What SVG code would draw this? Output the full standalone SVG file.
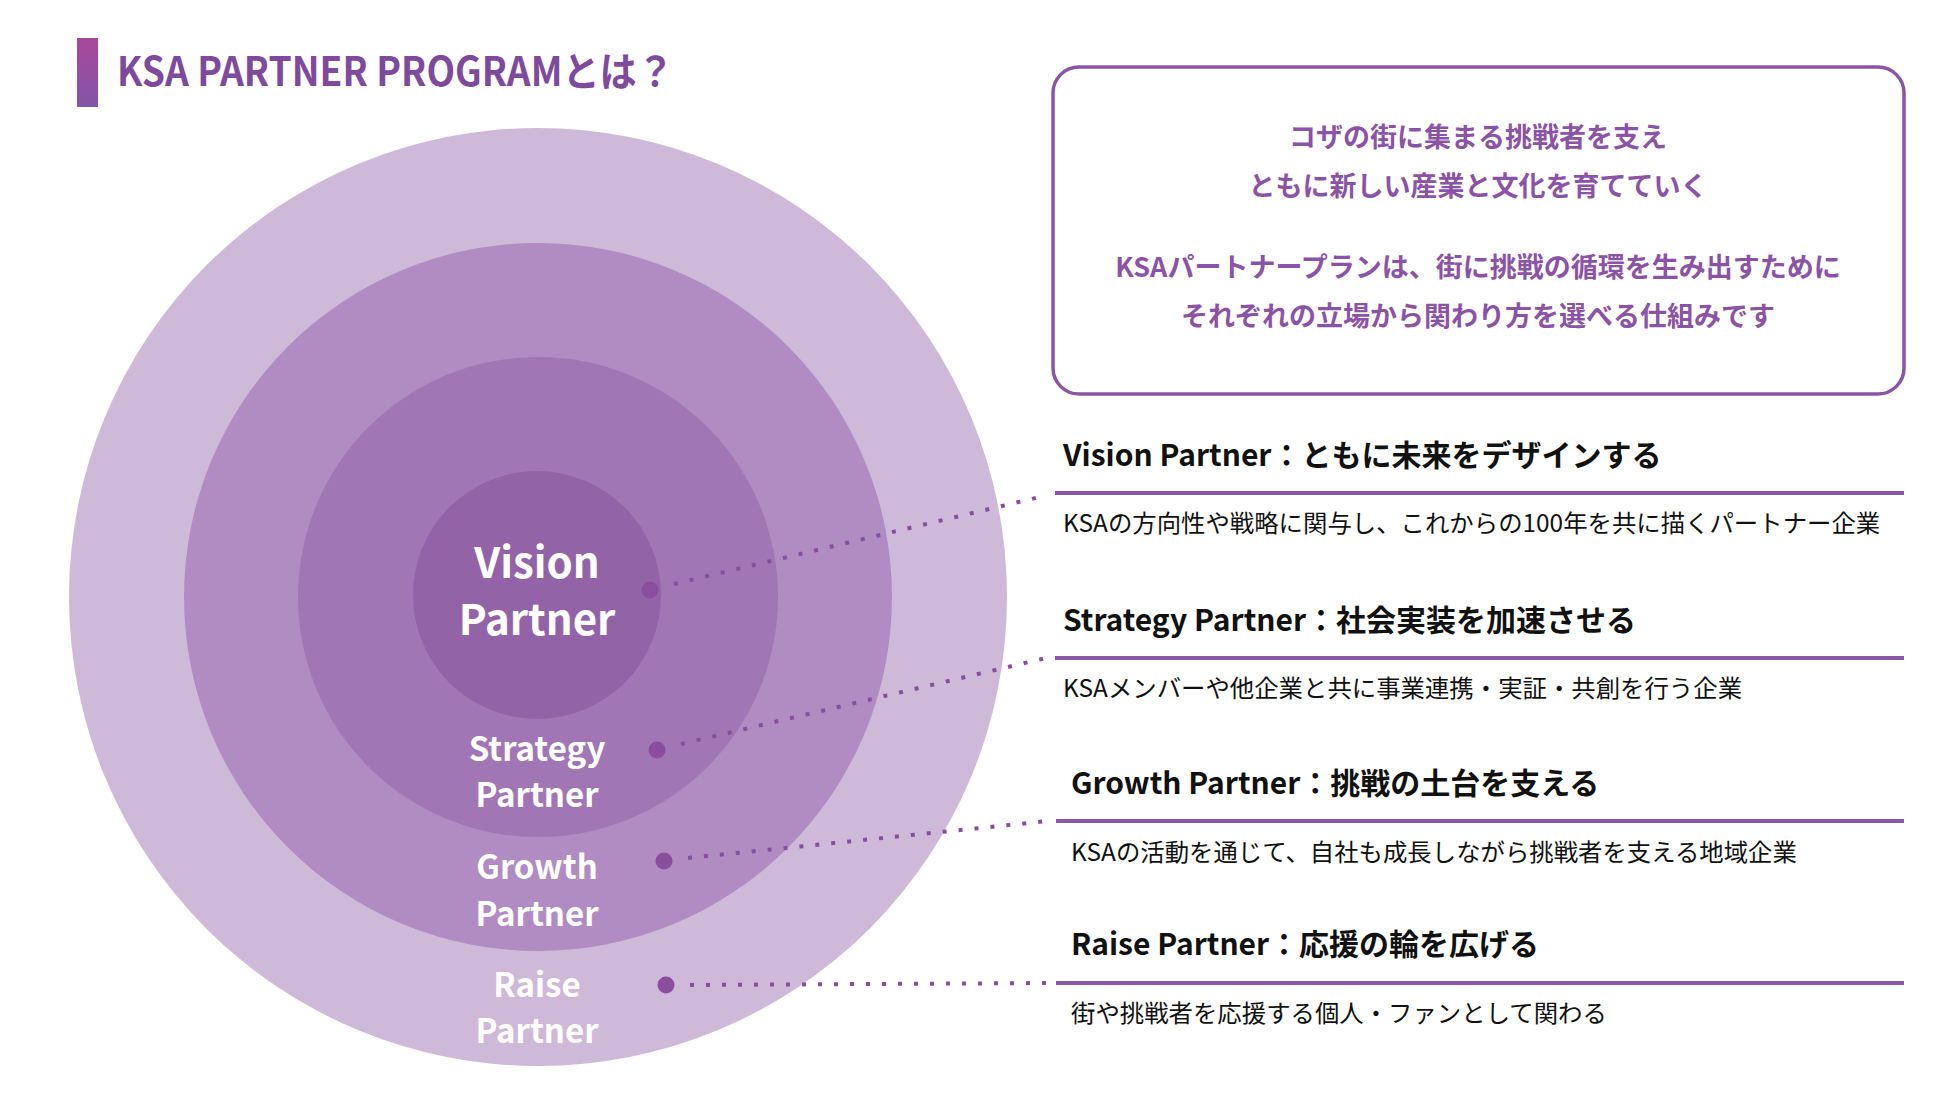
<svg xmlns="http://www.w3.org/2000/svg" width="1950" height="1097" viewBox="0 0 1950 1097">
<defs>
<linearGradient id="barGrad" x1="0" y1="0" x2="0" y2="1">
<stop offset="0" stop-color="#a9479b"/>
<stop offset="1" stop-color="#8455a6"/>
</linearGradient>
</defs>
<style>
text{font-family:"Noto Sans CJK JP","Noto Sans",sans-serif;}
.title{font-size:40px;font-weight:700;fill:#7d4a9c;}
.intro{font-size:27px;font-weight:700;fill:#8b53a6;text-anchor:middle;}
.head{font-size:30px;font-weight:700;fill:#111;}
.desc{font-size:24.4px;font-weight:400;fill:#111;}
.ring{font-weight:700;fill:#fff;text-anchor:middle;}
.rule{stroke:#8a57a6;stroke-width:4;}
.conn{stroke:#84509e;stroke-width:4;stroke-dasharray:4 12;fill:none;}
.dot{fill:#8a4e9f;}
</style>
<rect width="1950" height="1097" fill="#fff"/>

<g id="title">
<rect x="77" y="38" width="21" height="69" fill="url(#barGrad)"/>
<text class="title" x="117" y="86" textLength="557" lengthAdjust="spacingAndGlyphs">KSA PARTNER PROGRAMとは？</text>
</g>

<g id="intro-box">
<rect x="1053" y="67" width="851" height="327" rx="26" ry="26" fill="#fff" stroke="#8a55a5" stroke-width="3.5"/>
<text class="intro" x="1478" y="147">コザの街に集まる挑戦者を支え</text>
<text class="intro" x="1478" y="196">ともに新しい産業と文化を育てていく</text>
<text class="intro" x="1478" y="277">KSAパートナープランは、街に挑戦の循環を生み出すために</text>
<text class="intro" x="1478" y="326">それぞれの立場から関わり方を選べる仕組みです</text>
</g>

<g id="raise-ring">
<circle cx="538" cy="597" r="469" fill="#cfb9d8"/>
</g>
<g id="growth-ring">
<circle cx="538" cy="597" r="354" fill="#b08cc2"/>
</g>
<g id="strategy-ring">
<circle cx="538" cy="597" r="240" fill="#a077b4"/>
</g>
<g id="vision-ring">
<circle cx="537" cy="595" r="124" fill="#9363a8"/>
</g>

<g id="ring-labels">
<text class="ring" x="537" y="578" font-size="42">Vision</text>
<text class="ring" x="537" y="635" font-size="42">Partner</text>
<text class="ring" x="537" y="761" font-size="33">Strategy</text>
<text class="ring" x="537" y="807" font-size="33">Partner</text>
<text class="ring" x="537" y="879" font-size="33">Growth</text>
<text class="ring" x="537" y="926" font-size="33">Partner</text>
<text class="ring" x="537" y="997" font-size="33">Raise</text>
<text class="ring" x="537" y="1043" font-size="33">Partner</text>
</g>

<g id="connectors">
<line class="conn" x1="674" y1="584" x2="1044" y2="496"/>
<line class="conn" x1="681" y1="744" x2="1046" y2="658"/>
<line class="conn" x1="688" y1="858" x2="1048" y2="821"/>
<line class="conn" x1="690" y1="985" x2="1050" y2="983"/>
<circle class="dot" cx="650" cy="590" r="8.5"/>
<circle class="dot" cx="657" cy="750" r="8.5"/>
<circle class="dot" cx="664" cy="861" r="8.5"/>
<circle class="dot" cx="666" cy="985" r="8.5"/>
</g>

<g id="vision-partner">
<text class="head" x="1063" y="466">Vision Partner：ともに未来をデザインする</text>
<line class="rule" x1="1055" y1="493" x2="1904" y2="493"/>
<text class="desc" x="1063" y="532">KSAの方向性や戦略に関与し、これからの100年を共に描くパートナー企業</text>
</g>

<g id="strategy-partner">
<text class="head" x="1063" y="631">Strategy Partner：社会実装を加速させる</text>
<line class="rule" x1="1055" y1="658" x2="1904" y2="658"/>
<text class="desc" x="1063" y="697">KSAメンバーや他企業と共に事業連携・実証・共創を行う企業</text>
</g>

<g id="growth-partner">
<text class="head" x="1071" y="794">Growth Partner：挑戦の土台を支える</text>
<line class="rule" x1="1056" y1="821" x2="1904" y2="821"/>
<text class="desc" x="1071" y="861">KSAの活動を通じて、自社も成長しながら挑戦者を支える地域企業</text>
</g>

<g id="raise-partner">
<text class="head" x="1071" y="955">Raise Partner：応援の輪を広げる</text>
<line class="rule" x1="1056" y1="983" x2="1904" y2="983"/>
<text class="desc" x="1071" y="1022">街や挑戦者を応援する個人・ファンとして関わる</text>
</g>
</svg>
